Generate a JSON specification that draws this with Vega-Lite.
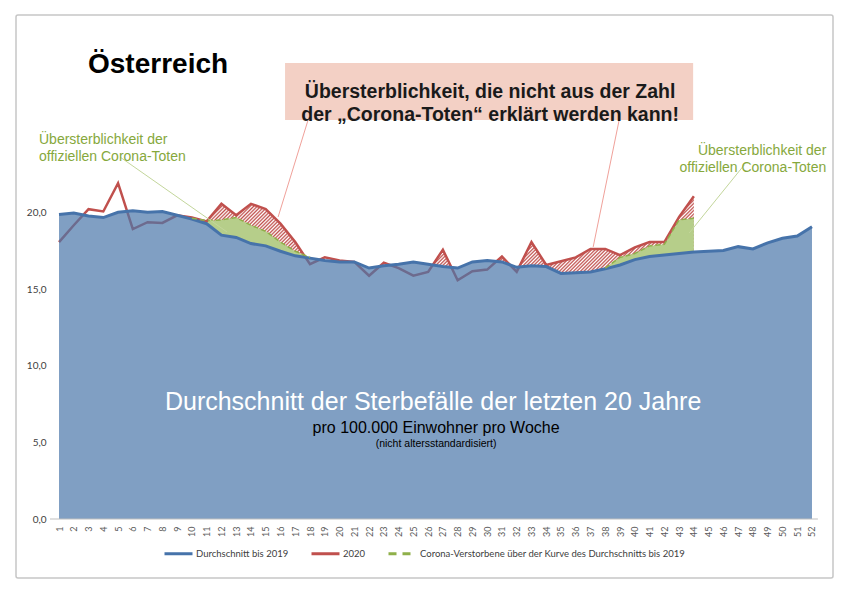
{
"$schema":"https://vega.github.io/schema/vega-lite/v6.json",
"width":817,"height":563,
"autosize":{"type":"none"},
"padding":{"left":16,"top":15,"right":17,"bottom":16},
"background":"white",
"config":{"font":"Liberation Sans","view":{"stroke":"#c6c6c6","strokeWidth":1.5,"cornerRadius":2},"axis":{"grid":false,"labelOverlap":false}},
"data":{"values":[
{"week":1,"avg":19.9,"y2020":18.1},
{"week":2,"avg":20.0,"y2020":19.2},
{"week":3,"avg":19.8,"y2020":20.25},
{"week":4,"avg":19.7,"y2020":20.1},
{"week":5,"avg":20.05,"y2020":21.95},
{"week":6,"avg":20.15,"y2020":18.95},
{"week":7,"avg":20.05,"y2020":19.4},
{"week":8,"avg":20.1,"y2020":19.35},
{"week":9,"avg":19.85,"y2020":19.85},
{"week":10,"avg":19.6,"y2020":19.7,"corona":19.65},
{"week":11,"avg":19.3,"y2020":19.45,"corona":19.5},
{"week":12,"avg":18.55,"y2020":20.6,"corona":19.55},
{"week":13,"avg":18.4,"y2020":19.85,"corona":19.7},
{"week":14,"avg":18.0,"y2020":20.6,"corona":19.2},
{"week":15,"avg":17.85,"y2020":20.25,"corona":18.8},
{"week":16,"avg":17.5,"y2020":19.3,"corona":18.1},
{"week":17,"avg":17.2,"y2020":18.1,"corona":17.5},
{"week":18,"avg":17.05,"y2020":16.65,"corona":17.1},
{"week":19,"avg":16.9,"y2020":17.1},
{"week":20,"avg":16.8,"y2020":16.9},
{"week":21,"avg":16.8,"y2020":16.8},
{"week":22,"avg":16.4,"y2020":15.9},
{"week":23,"avg":16.55,"y2020":16.75},
{"week":24,"avg":16.65,"y2020":16.4},
{"week":25,"avg":16.8,"y2020":15.9},
{"week":26,"avg":16.65,"y2020":16.15},
{"week":27,"avg":16.5,"y2020":17.6},
{"week":28,"avg":16.4,"y2020":15.6},
{"week":29,"avg":16.8,"y2020":16.2},
{"week":30,"avg":16.9,"y2020":16.3},
{"week":31,"avg":16.8,"y2020":17.15},
{"week":32,"avg":16.45,"y2020":16.15},
{"week":33,"avg":16.55,"y2020":18.1},
{"week":34,"avg":16.5,"y2020":16.6},
{"week":35,"avg":16.05,"y2020":16.85},
{"week":36,"avg":16.1,"y2020":17.1},
{"week":37,"avg":16.15,"y2020":17.65},
{"week":38,"avg":16.35,"y2020":17.65,"corona":16.4},
{"week":39,"avg":16.6,"y2020":17.25,"corona":17.1},
{"week":40,"avg":16.95,"y2020":17.75,"corona":17.35},
{"week":41,"avg":17.15,"y2020":18.1,"corona":17.85},
{"week":42,"avg":17.25,"y2020":18.1,"corona":17.95},
{"week":43,"avg":17.35,"y2020":19.75,"corona":19.55},
{"week":44,"avg":17.45,"y2020":21.1,"corona":19.65},
{"week":45,"avg":17.5},
{"week":46,"avg":17.55},
{"week":47,"avg":17.8},
{"week":48,"avg":17.65},
{"week":49,"avg":18.05},
{"week":50,"avg":18.35},
{"week":51,"avg":18.5},
{"week":52,"avg":19.1}
]},
"layer":[
{"data":{"values":[{}]},"mark":{"type":"rect","fill":"#f3d0c5"},
 "encoding":{"x":{"datum":16.31,"type":"quantitative","scale":{"domain":[-1.913,53.423],"nice":false,"zero":false},"title":null,
   "axis":{"values":[1,2,3,4,5,6,7,8,9,10,11,12,13,14,15,16,17,18,19,20,21,22,23,24,25,26,27,28,29,30,31,32,33,34,35,36,37,38,39,40,41,42,43,44,45,46,47,48,49,50,51,52],"tickCount":80,"format":"d","labelAngle":-90,"offset":-59,"domain":false,"ticks":false,"labelPadding":7,"labelFont":"Lato","labelFontSize":9,"labelColor":"#595959","labelOverlap":false,"labelFlush":false,"title":null}},
 "x2":{"datum":43.95},
 "y":{"datum":29.8,"type":"quantitative","scale":{"domain":[-3.856,32.94],"nice":false,"zero":false},"title":null,
   "axis":{"values":[0,5,10,15,20],"tickCount":10,"offset":-34,"domain":false,"ticks":false,"labelPadding":4,"labelExpr":"replace(format(datum.value, '.1f'), '.', ',')","labelFont":"Lato","labelFontSize":10,"labelColor":"#404040","title":null}},
 "y2":{"datum":26.08}}},
{"transform":[{"filter":"datum.week >= 10 && datum.week <= 18"}],
 "mark":{"type":"area","fill":{"gradient":"linear","x1":0,"y1":0,"x2":1.198,"y2":0.6132,"stops":[
{"offset":0,"color":"#c0504d"},{"offset":0.01,"color":"#fff"},{"offset":0.02,"color":"#c0504d"},{"offset":0.03,"color":"#fff"},{"offset":0.04,"color":"#c0504d"},{"offset":0.05,"color":"#fff"},{"offset":0.06,"color":"#c0504d"},{"offset":0.07,"color":"#fff"},{"offset":0.08,"color":"#c0504d"},{"offset":0.09,"color":"#fff"},
{"offset":0.1,"color":"#c0504d"},{"offset":0.11,"color":"#fff"},{"offset":0.12,"color":"#c0504d"},{"offset":0.13,"color":"#fff"},{"offset":0.14,"color":"#c0504d"},{"offset":0.15,"color":"#fff"},{"offset":0.16,"color":"#c0504d"},{"offset":0.17,"color":"#fff"},{"offset":0.18,"color":"#c0504d"},{"offset":0.19,"color":"#fff"},
{"offset":0.2,"color":"#c0504d"},{"offset":0.21,"color":"#fff"},{"offset":0.22,"color":"#c0504d"},{"offset":0.23,"color":"#fff"},{"offset":0.24,"color":"#c0504d"},{"offset":0.25,"color":"#fff"},{"offset":0.26,"color":"#c0504d"},{"offset":0.27,"color":"#fff"},{"offset":0.28,"color":"#c0504d"},{"offset":0.29,"color":"#fff"},
{"offset":0.3,"color":"#c0504d"},{"offset":0.31,"color":"#fff"},{"offset":0.32,"color":"#c0504d"},{"offset":0.33,"color":"#fff"},{"offset":0.34,"color":"#c0504d"},{"offset":0.35,"color":"#fff"},{"offset":0.36,"color":"#c0504d"},{"offset":0.37,"color":"#fff"},{"offset":0.38,"color":"#c0504d"},{"offset":0.39,"color":"#fff"},
{"offset":0.4,"color":"#c0504d"},{"offset":0.41,"color":"#fff"},{"offset":0.42,"color":"#c0504d"},{"offset":0.43,"color":"#fff"},{"offset":0.44,"color":"#c0504d"},{"offset":0.45,"color":"#fff"},{"offset":0.46,"color":"#c0504d"},{"offset":0.47,"color":"#fff"},{"offset":0.48,"color":"#c0504d"},{"offset":0.49,"color":"#fff"},
{"offset":0.5,"color":"#c0504d"},{"offset":0.51,"color":"#fff"},{"offset":0.52,"color":"#c0504d"},{"offset":0.53,"color":"#fff"},{"offset":0.54,"color":"#c0504d"},{"offset":0.55,"color":"#fff"},{"offset":0.56,"color":"#c0504d"},{"offset":0.57,"color":"#fff"},{"offset":0.58,"color":"#c0504d"},{"offset":0.59,"color":"#fff"},
{"offset":0.6,"color":"#c0504d"},{"offset":0.61,"color":"#fff"},{"offset":0.62,"color":"#c0504d"},{"offset":0.63,"color":"#fff"},{"offset":0.64,"color":"#c0504d"},{"offset":0.65,"color":"#fff"},{"offset":0.66,"color":"#c0504d"},{"offset":0.67,"color":"#fff"},{"offset":0.68,"color":"#c0504d"},{"offset":0.69,"color":"#fff"},
{"offset":0.7,"color":"#c0504d"},{"offset":0.71,"color":"#fff"},{"offset":0.72,"color":"#c0504d"},{"offset":0.73,"color":"#fff"},{"offset":0.74,"color":"#c0504d"},{"offset":0.75,"color":"#fff"},{"offset":0.76,"color":"#c0504d"},{"offset":0.77,"color":"#fff"},{"offset":0.78,"color":"#c0504d"},{"offset":0.79,"color":"#fff"},
{"offset":0.8,"color":"#c0504d"},{"offset":0.81,"color":"#fff"},{"offset":0.82,"color":"#c0504d"},{"offset":0.83,"color":"#fff"},{"offset":0.84,"color":"#c0504d"},{"offset":0.85,"color":"#fff"},{"offset":0.86,"color":"#c0504d"},{"offset":0.87,"color":"#fff"},{"offset":0.88,"color":"#c0504d"},{"offset":0.89,"color":"#fff"},
{"offset":0.9,"color":"#c0504d"},{"offset":0.91,"color":"#fff"},{"offset":0.92,"color":"#c0504d"},{"offset":0.93,"color":"#fff"},{"offset":0.94,"color":"#c0504d"},{"offset":0.95,"color":"#fff"},{"offset":0.96,"color":"#c0504d"},{"offset":0.97,"color":"#fff"},{"offset":0.98,"color":"#c0504d"},{"offset":0.99,"color":"#fff"},
{"offset":1,"color":"#c0504d"}]}},
 "encoding":{"x":{"field":"week","type":"quantitative","scale":{"domain":[-1.913,53.423],"nice":false,"zero":false},"title":null},
 "y":{"field":"y2020","type":"quantitative","scale":{"domain":[-3.856,32.94],"nice":false,"zero":false},"title":null},"y2":{"datum":17.0}}},
{"transform":[{"filter":"datum.week >= 26 && datum.week <= 44"}],
 "mark":{"type":"area","fill":{"gradient":"linear","x1":0,"y1":0,"x2":1.1967,"y2":0.379,"stops":[
{"offset":0,"color":"#c0504d"},{"offset":0.005,"color":"#fff"},{"offset":0.01,"color":"#c0504d"},{"offset":0.015,"color":"#fff"},{"offset":0.02,"color":"#c0504d"},{"offset":0.025,"color":"#fff"},{"offset":0.03,"color":"#c0504d"},{"offset":0.035,"color":"#fff"},{"offset":0.04,"color":"#c0504d"},{"offset":0.045,"color":"#fff"},
{"offset":0.05,"color":"#c0504d"},{"offset":0.055,"color":"#fff"},{"offset":0.06,"color":"#c0504d"},{"offset":0.065,"color":"#fff"},{"offset":0.07,"color":"#c0504d"},{"offset":0.075,"color":"#fff"},{"offset":0.08,"color":"#c0504d"},{"offset":0.085,"color":"#fff"},{"offset":0.09,"color":"#c0504d"},{"offset":0.095,"color":"#fff"},
{"offset":0.1,"color":"#c0504d"},{"offset":0.105,"color":"#fff"},{"offset":0.11,"color":"#c0504d"},{"offset":0.115,"color":"#fff"},{"offset":0.12,"color":"#c0504d"},{"offset":0.125,"color":"#fff"},{"offset":0.13,"color":"#c0504d"},{"offset":0.135,"color":"#fff"},{"offset":0.14,"color":"#c0504d"},{"offset":0.145,"color":"#fff"},
{"offset":0.15,"color":"#c0504d"},{"offset":0.155,"color":"#fff"},{"offset":0.16,"color":"#c0504d"},{"offset":0.165,"color":"#fff"},{"offset":0.17,"color":"#c0504d"},{"offset":0.175,"color":"#fff"},{"offset":0.18,"color":"#c0504d"},{"offset":0.185,"color":"#fff"},{"offset":0.19,"color":"#c0504d"},{"offset":0.195,"color":"#fff"},
{"offset":0.2,"color":"#c0504d"},{"offset":0.205,"color":"#fff"},{"offset":0.21,"color":"#c0504d"},{"offset":0.215,"color":"#fff"},{"offset":0.22,"color":"#c0504d"},{"offset":0.225,"color":"#fff"},{"offset":0.23,"color":"#c0504d"},{"offset":0.235,"color":"#fff"},{"offset":0.24,"color":"#c0504d"},{"offset":0.245,"color":"#fff"},
{"offset":0.25,"color":"#c0504d"},{"offset":0.255,"color":"#fff"},{"offset":0.26,"color":"#c0504d"},{"offset":0.265,"color":"#fff"},{"offset":0.27,"color":"#c0504d"},{"offset":0.275,"color":"#fff"},{"offset":0.28,"color":"#c0504d"},{"offset":0.285,"color":"#fff"},{"offset":0.29,"color":"#c0504d"},{"offset":0.295,"color":"#fff"},
{"offset":0.3,"color":"#c0504d"},{"offset":0.305,"color":"#fff"},{"offset":0.31,"color":"#c0504d"},{"offset":0.315,"color":"#fff"},{"offset":0.32,"color":"#c0504d"},{"offset":0.325,"color":"#fff"},{"offset":0.33,"color":"#c0504d"},{"offset":0.335,"color":"#fff"},{"offset":0.34,"color":"#c0504d"},{"offset":0.345,"color":"#fff"},
{"offset":0.35,"color":"#c0504d"},{"offset":0.355,"color":"#fff"},{"offset":0.36,"color":"#c0504d"},{"offset":0.365,"color":"#fff"},{"offset":0.37,"color":"#c0504d"},{"offset":0.375,"color":"#fff"},{"offset":0.38,"color":"#c0504d"},{"offset":0.385,"color":"#fff"},{"offset":0.39,"color":"#c0504d"},{"offset":0.395,"color":"#fff"},
{"offset":0.4,"color":"#c0504d"},{"offset":0.405,"color":"#fff"},{"offset":0.41,"color":"#c0504d"},{"offset":0.415,"color":"#fff"},{"offset":0.42,"color":"#c0504d"},{"offset":0.425,"color":"#fff"},{"offset":0.43,"color":"#c0504d"},{"offset":0.435,"color":"#fff"},{"offset":0.44,"color":"#c0504d"},{"offset":0.445,"color":"#fff"},
{"offset":0.45,"color":"#c0504d"},{"offset":0.455,"color":"#fff"},{"offset":0.46,"color":"#c0504d"},{"offset":0.465,"color":"#fff"},{"offset":0.47,"color":"#c0504d"},{"offset":0.475,"color":"#fff"},{"offset":0.48,"color":"#c0504d"},{"offset":0.485,"color":"#fff"},{"offset":0.49,"color":"#c0504d"},{"offset":0.495,"color":"#fff"},
{"offset":0.5,"color":"#c0504d"},{"offset":0.505,"color":"#fff"},{"offset":0.51,"color":"#c0504d"},{"offset":0.515,"color":"#fff"},{"offset":0.52,"color":"#c0504d"},{"offset":0.525,"color":"#fff"},{"offset":0.53,"color":"#c0504d"},{"offset":0.535,"color":"#fff"},{"offset":0.54,"color":"#c0504d"},{"offset":0.545,"color":"#fff"},
{"offset":0.55,"color":"#c0504d"},{"offset":0.555,"color":"#fff"},{"offset":0.56,"color":"#c0504d"},{"offset":0.565,"color":"#fff"},{"offset":0.57,"color":"#c0504d"},{"offset":0.575,"color":"#fff"},{"offset":0.58,"color":"#c0504d"},{"offset":0.585,"color":"#fff"},{"offset":0.59,"color":"#c0504d"},{"offset":0.595,"color":"#fff"},
{"offset":0.6,"color":"#c0504d"},{"offset":0.605,"color":"#fff"},{"offset":0.61,"color":"#c0504d"},{"offset":0.615,"color":"#fff"},{"offset":0.62,"color":"#c0504d"},{"offset":0.625,"color":"#fff"},{"offset":0.63,"color":"#c0504d"},{"offset":0.635,"color":"#fff"},{"offset":0.64,"color":"#c0504d"},{"offset":0.645,"color":"#fff"},
{"offset":0.65,"color":"#c0504d"},{"offset":0.655,"color":"#fff"},{"offset":0.66,"color":"#c0504d"},{"offset":0.665,"color":"#fff"},{"offset":0.67,"color":"#c0504d"},{"offset":0.675,"color":"#fff"},{"offset":0.68,"color":"#c0504d"},{"offset":0.685,"color":"#fff"},{"offset":0.69,"color":"#c0504d"},{"offset":0.695,"color":"#fff"},
{"offset":0.7,"color":"#c0504d"},{"offset":0.705,"color":"#fff"},{"offset":0.71,"color":"#c0504d"},{"offset":0.715,"color":"#fff"},{"offset":0.72,"color":"#c0504d"},{"offset":0.725,"color":"#fff"},{"offset":0.73,"color":"#c0504d"},{"offset":0.735,"color":"#fff"},{"offset":0.74,"color":"#c0504d"},{"offset":0.745,"color":"#fff"},
{"offset":0.75,"color":"#c0504d"},{"offset":0.755,"color":"#fff"},{"offset":0.76,"color":"#c0504d"},{"offset":0.765,"color":"#fff"},{"offset":0.77,"color":"#c0504d"},{"offset":0.775,"color":"#fff"},{"offset":0.78,"color":"#c0504d"},{"offset":0.785,"color":"#fff"},{"offset":0.79,"color":"#c0504d"},{"offset":0.795,"color":"#fff"},
{"offset":0.8,"color":"#c0504d"},{"offset":0.805,"color":"#fff"},{"offset":0.81,"color":"#c0504d"},{"offset":0.815,"color":"#fff"},{"offset":0.82,"color":"#c0504d"},{"offset":0.825,"color":"#fff"},{"offset":0.83,"color":"#c0504d"},{"offset":0.835,"color":"#fff"},{"offset":0.84,"color":"#c0504d"},{"offset":0.845,"color":"#fff"},
{"offset":0.85,"color":"#c0504d"},{"offset":0.855,"color":"#fff"},{"offset":0.86,"color":"#c0504d"},{"offset":0.865,"color":"#fff"},{"offset":0.87,"color":"#c0504d"},{"offset":0.875,"color":"#fff"},{"offset":0.88,"color":"#c0504d"},{"offset":0.885,"color":"#fff"},{"offset":0.89,"color":"#c0504d"},{"offset":0.895,"color":"#fff"},
{"offset":0.9,"color":"#c0504d"},{"offset":0.905,"color":"#fff"},{"offset":0.91,"color":"#c0504d"},{"offset":0.915,"color":"#fff"},{"offset":0.92,"color":"#c0504d"},{"offset":0.925,"color":"#fff"},{"offset":0.93,"color":"#c0504d"},{"offset":0.935,"color":"#fff"},{"offset":0.94,"color":"#c0504d"},{"offset":0.945,"color":"#fff"},
{"offset":0.95,"color":"#c0504d"},{"offset":0.955,"color":"#fff"},{"offset":0.96,"color":"#c0504d"},{"offset":0.965,"color":"#fff"},{"offset":0.97,"color":"#c0504d"},{"offset":0.975,"color":"#fff"},{"offset":0.98,"color":"#c0504d"},{"offset":0.985,"color":"#fff"},{"offset":0.99,"color":"#c0504d"},{"offset":0.995,"color":"#fff"},
{"offset":1,"color":"#c0504d"}]}},
 "encoding":{"x":{"field":"week","type":"quantitative","scale":{"domain":[-1.913,53.423],"nice":false,"zero":false},"title":null},
 "y":{"field":"y2020","type":"quantitative","scale":{"domain":[-3.856,32.94],"nice":false,"zero":false},"title":null},"y2":{"datum":16.0}}},
{"transform":[{"filter":"isValid(datum.corona) && datum.week < 30"}],
 "mark":{"type":"area","fill":"#b6ce8a"},
 "encoding":{"x":{"field":"week","type":"quantitative","scale":{"domain":[-1.913,53.423],"nice":false,"zero":false},"title":null},
 "y":{"field":"corona","type":"quantitative","scale":{"domain":[-3.856,32.94],"nice":false,"zero":false},"title":null},"y2":{"datum":0}}},
{"transform":[{"filter":"isValid(datum.corona) && datum.week >= 30"}],
 "mark":{"type":"area","fill":"#b6ce8a"},
 "encoding":{"x":{"field":"week","type":"quantitative","scale":{"domain":[-1.913,53.423],"nice":false,"zero":false},"title":null},
 "y":{"field":"corona","type":"quantitative","scale":{"domain":[-3.856,32.94],"nice":false,"zero":false},"title":null},"y2":{"datum":0}}},
{"mark":{"type":"area","fill":"#ffffff"},
 "encoding":{"x":{"field":"week","type":"quantitative","scale":{"domain":[-1.913,53.423],"nice":false,"zero":false},"title":null},
 "y":{"field":"avg","type":"quantitative","scale":{"domain":[-3.856,32.94],"nice":false,"zero":false},"title":null},"y2":{"datum":0}}},
{"mark":{"type":"line","strokeWidth":2.5},
 "encoding":{"x":{"field":"week","type":"quantitative","scale":{"domain":[-1.913,53.423],"nice":false,"zero":false},"title":null},
 "y":{"field":"y2020","type":"quantitative","scale":{"domain":[-3.856,32.94],"nice":false,"zero":false},"title":null},
 "color":{"datum":"2020","type":"nominal","scale":{"domain":["Durchschnitt bis 2019","2020","Corona-Verstorbene über der Kurve des Durchschnitts bis 2019"],"range":["#4673aa","#c0504d","#8fb04a"]}}}},
{"mark":{"type":"area","fill":"#4a76a9","opacity":0.7},
 "encoding":{"x":{"field":"week","type":"quantitative","scale":{"domain":[-1.913,53.423],"nice":false,"zero":false},"title":null},
 "y":{"field":"avg","type":"quantitative","scale":{"domain":[-3.856,32.94],"nice":false,"zero":false},"title":null},
 "y2":{"datum":0}}},
{"mark":{"type":"line","strokeWidth":3},
 "encoding":{"x":{"field":"week","type":"quantitative","scale":{"domain":[-1.913,53.423],"nice":false,"zero":false},"title":null},
 "y":{"field":"avg","type":"quantitative","scale":{"domain":[-3.856,32.94],"nice":false,"zero":false},"title":null},
 "color":{"datum":"Durchschnitt bis 2019","type":"nominal","scale":{"domain":["Durchschnitt bis 2019","2020","Corona-Verstorbene über der Kurve des Durchschnitts bis 2019"],"range":["#4673aa","#c0504d","#8fb04a"]},
   "legend":{"orient":"none","legendX":147,"legendY":523,"direction":"horizontal","title":null,"symbolType":"stroke","symbolSize":784,"symbolStrokeWidth":3,"labelFont":"Lato","labelFontSize":9.5,"labelColor":"#404040","labelLimit":500,"columnPadding":16,"labelOffset":2,"padding":0,
   "encode":{"symbols":{"update":{"strokeDash":{"signal":"datum.value === 'Corona-Verstorbene über der Kurve des Durchschnitts bis 2019' ? [8,6] : [1,0]"}}}}}}}},
{"transform":[{"filter":"isValid(datum.corona) && datum.week < 30"}],
 "mark":{"type":"line","strokeWidth":1.5,"strokeDash":[5,3]},
 "encoding":{"x":{"field":"week","type":"quantitative","scale":{"domain":[-1.913,53.423],"nice":false,"zero":false},"title":null},
 "y":{"field":"corona","type":"quantitative","scale":{"domain":[-3.856,32.94],"nice":false,"zero":false},"title":null},
 "color":{"datum":"Corona-Verstorbene über der Kurve des Durchschnitts bis 2019","type":"nominal","scale":{"domain":["Durchschnitt bis 2019","2020","Corona-Verstorbene über der Kurve des Durchschnitts bis 2019"],"range":["#4673aa","#c0504d","#8fb04a"]}}}},
{"transform":[{"filter":"isValid(datum.corona) && datum.week >= 30"}],
 "mark":{"type":"line","strokeWidth":1.5,"strokeDash":[5,3]},
 "encoding":{"x":{"field":"week","type":"quantitative","scale":{"domain":[-1.913,53.423],"nice":false,"zero":false},"title":null},
 "y":{"field":"corona","type":"quantitative","scale":{"domain":[-3.856,32.94],"nice":false,"zero":false},"title":null},
 "color":{"datum":"Corona-Verstorbene über der Kurve des Durchschnitts bis 2019","type":"nominal","scale":{"domain":["Durchschnitt bis 2019","2020","Corona-Verstorbene über der Kurve des Durchschnitts bis 2019"],"range":["#4673aa","#c0504d","#8fb04a"]}}}},
{"data":{"values":[{}]},"mark":{"type":"rule","stroke":"#bfbfbf","strokeWidth":1},
 "encoding":{"x":{"datum":0.39,"type":"quantitative","scale":{"domain":[-1.913,53.423],"nice":false,"zero":false}},"x2":{"datum":52.4},
 "y":{"datum":0,"type":"quantitative","scale":{"domain":[-3.856,32.94],"nice":false,"zero":false}}}},
{"data":{"values":[{}]},"mark":{"type":"rule","stroke":"#c3d69b","strokeWidth":1},
 "encoding":{"x":{"datum":5.13,"type":"quantitative","scale":{"domain":[-1.913,53.423],"nice":false,"zero":false}},"x2":{"datum":12.38},
 "y":{"datum":23.66,"type":"quantitative","scale":{"domain":[-3.856,32.94],"nice":false,"zero":false}},"y2":{"datum":18.76}}},
{"data":{"values":[{}]},"mark":{"type":"rule","stroke":"#c3d69b","strokeWidth":1},
 "encoding":{"x":{"datum":47.41,"type":"quantitative","scale":{"domain":[-1.913,53.423],"nice":false,"zero":false}},"x2":{"datum":43.68},
 "y":{"datum":23.14,"type":"quantitative","scale":{"domain":[-3.856,32.94],"nice":false,"zero":false}},"y2":{"datum":18.69}}},
{"data":{"values":[{}]},"mark":{"type":"rule","stroke":"#f0a19a","strokeWidth":1},
 "encoding":{"x":{"datum":17.87,"type":"quantitative","scale":{"domain":[-1.913,53.423],"nice":false,"zero":false}},"x2":{"datum":15.84},
 "y":{"datum":26.08,"type":"quantitative","scale":{"domain":[-3.856,32.94],"nice":false,"zero":false}},"y2":{"datum":19.74}}},
{"data":{"values":[{}]},"mark":{"type":"rule","stroke":"#f0a19a","strokeWidth":1},
 "encoding":{"x":{"datum":38.94,"type":"quantitative","scale":{"domain":[-1.913,53.423],"nice":false,"zero":false}},"x2":{"datum":37.18},
 "y":{"datum":26.08,"type":"quantitative","scale":{"domain":[-3.856,32.94],"nice":false,"zero":false}},"y2":{"datum":17.78}}},
{"data":{"values":[{}]},"mark":{"type":"text","align":"left","baseline":"middle","fontSize":28,"fontWeight":"bold","color":"#000000"},
 "encoding":{"x":{"datum":2.965,"type":"quantitative","scale":{"domain":[-1.913,53.423],"nice":false,"zero":false}},
 "y":{"datum":29.67,"type":"quantitative","scale":{"domain":[-3.856,32.94],"nice":false,"zero":false}},"text":{"value":"Österreich"}}},
{"data":{"values":[{}]},"mark":{"type":"text","align":"center","baseline":"middle","fontSize":19.5,"fontWeight":"bold","lineHeight":22.6,"color":"#1a1a1a"},
 "encoding":{"x":{"datum":30.2,"type":"quantitative","scale":{"domain":[-1.913,53.423],"nice":false,"zero":false}},
 "y":{"datum":27.91,"type":"quantitative","scale":{"domain":[-3.856,32.94],"nice":false,"zero":false}},"text":{"value":["Übersterblichkeit, die nicht aus der Zahl","der „Corona-Toten“ erklärt werden kann!"]}}},
{"data":{"values":[{}]},"mark":{"type":"text","align":"left","baseline":"middle","fontSize":14,"lineHeight":17,"color":"#86a83c"},
 "encoding":{"x":{"datum":-0.355,"type":"quantitative","scale":{"domain":[-1.913,53.423],"nice":false,"zero":false}},
 "y":{"datum":24.74,"type":"quantitative","scale":{"domain":[-3.856,32.94],"nice":false,"zero":false}},"text":{"value":["Übersterblichkeit der","offiziellen Corona-Toten"]}}},
{"data":{"values":[{}]},"mark":{"type":"text","align":"right","baseline":"middle","fontSize":14,"lineHeight":17,"color":"#86a83c"},
 "encoding":{"x":{"datum":52.97,"type":"quantitative","scale":{"domain":[-1.913,53.423],"nice":false,"zero":false}},
 "y":{"datum":24.02,"type":"quantitative","scale":{"domain":[-3.856,32.94],"nice":false,"zero":false}},"text":{"value":["Übersterblichkeit der","offiziellen Corona-Toten"]}}},
{"data":{"values":[{}]},"mark":{"type":"text","align":"center","baseline":"middle","fontSize":25,"color":"#ffffff"},
 "encoding":{"x":{"datum":26.34,"type":"quantitative","scale":{"domain":[-1.913,53.423],"nice":false,"zero":false}},
 "y":{"datum":7.65,"type":"quantitative","scale":{"domain":[-3.856,32.94],"nice":false,"zero":false}},"text":{"value":"Durchschnitt der Sterbefälle der letzten 20 Jahre"}}},
{"data":{"values":[{}]},"mark":{"type":"text","align":"center","baseline":"middle","fontSize":16,"color":"#000000"},
 "encoding":{"x":{"datum":26.54,"type":"quantitative","scale":{"domain":[-1.913,53.423],"nice":false,"zero":false}},
 "y":{"datum":5.95,"type":"quantitative","scale":{"domain":[-3.856,32.94],"nice":false,"zero":false}},"text":{"value":"pro 100.000 Einwohner pro Woche"}}},
{"data":{"values":[{}]},"mark":{"type":"text","align":"center","baseline":"middle","fontSize":10.5,"color":"#000000"},
 "encoding":{"x":{"datum":26.54,"type":"quantitative","scale":{"domain":[-1.913,53.423],"nice":false,"zero":false}},
 "y":{"datum":4.9,"type":"quantitative","scale":{"domain":[-3.856,32.94],"nice":false,"zero":false}},"text":{"value":"(nicht altersstandardisiert)"}}}
]
}
